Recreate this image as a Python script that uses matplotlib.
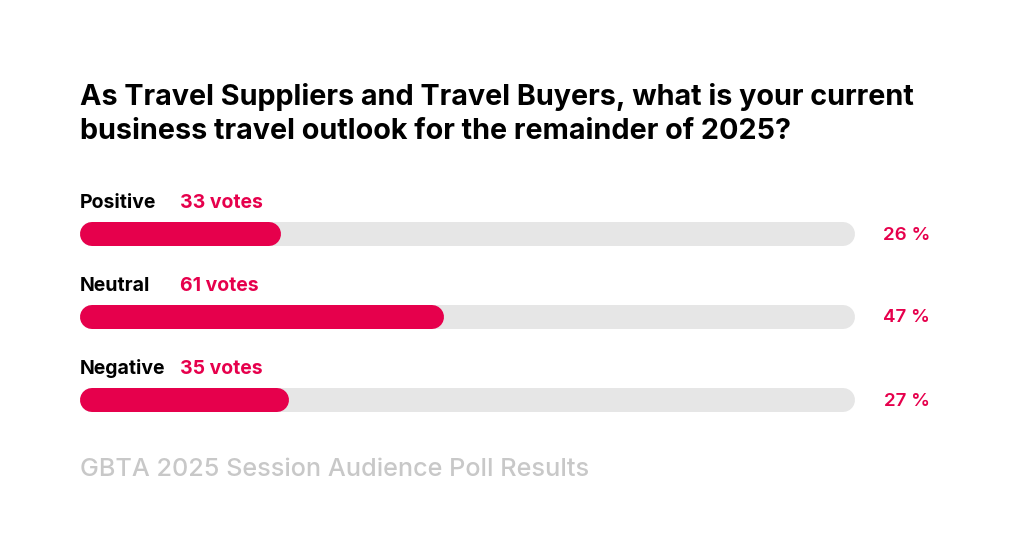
import matplotlib
matplotlib.use("Agg")
import matplotlib.pyplot as plt

categories = ["Positive", "Neutral", "Negative"]
votes = [33, 61, 35]
percents = [26, 47, 27]
title = "As Travel Suppliers and Travel Buyers, what is your current\nbusiness travel outlook for the remainder of 2025?"
footer = "GBTA 2025 Session Audience Poll Results"

RED = "#E6004C"
GRAY = "#E6E6E6"
plt.rcParams['font.family'] = ['Inter', 'DejaVu Sans']

W, H = 1020, 560
fig = plt.figure(figsize=(W/100, H/100), dpi=100)
fig.patch.set_facecolor("white")
x0, x1 = 80, 855
ax = fig.add_axes([x0/W, 0, (x1-x0)/W, 1])
ax.set_xlim(0, 100)
ax.set_ylim(H, 0)
ax.axis("off")

bar_h = 24  # px
lw = bar_h * 72 / 100
cap = 12 / (x1 - x0) * 100  # half-width in percent units
centers = [234, 317, 400]

for cat, v, p, yc in zip(categories, votes, percents, centers):
    ax.plot([cap, 100 - cap], [yc, yc], color=GRAY, lw=lw, solid_capstyle="round")
    ax.plot([cap, p - cap], [yc, yc], color=RED, lw=lw, solid_capstyle="round")
    fig.text(x0/W, 1 - (yc - 31)/H, cat, fontsize=14, fontweight="bold", color="black", va="center", ha="left")
    fig.text(180/W, 1 - (yc - 31)/H, f"{v} votes", fontsize=14, fontweight="bold", color=RED, va="center", ha="left")
    fig.text(930/W, 1 - (yc + 1)/H, f"{p} %", fontsize=13.5, fontweight="semibold", color=RED, va="center", ha="right")

fig.text(x0/W, 1 - 114/H, title, fontsize=20.7, fontweight="bold", color="black", va="center", ha="left", linespacing=1.35)
fig.text(x0/W, 1 - 469/H, footer, fontsize=18.2, fontweight="medium", color="#C8C8C8", va="center", ha="left")

fig.savefig("out.png", dpi=100, facecolor="white")
